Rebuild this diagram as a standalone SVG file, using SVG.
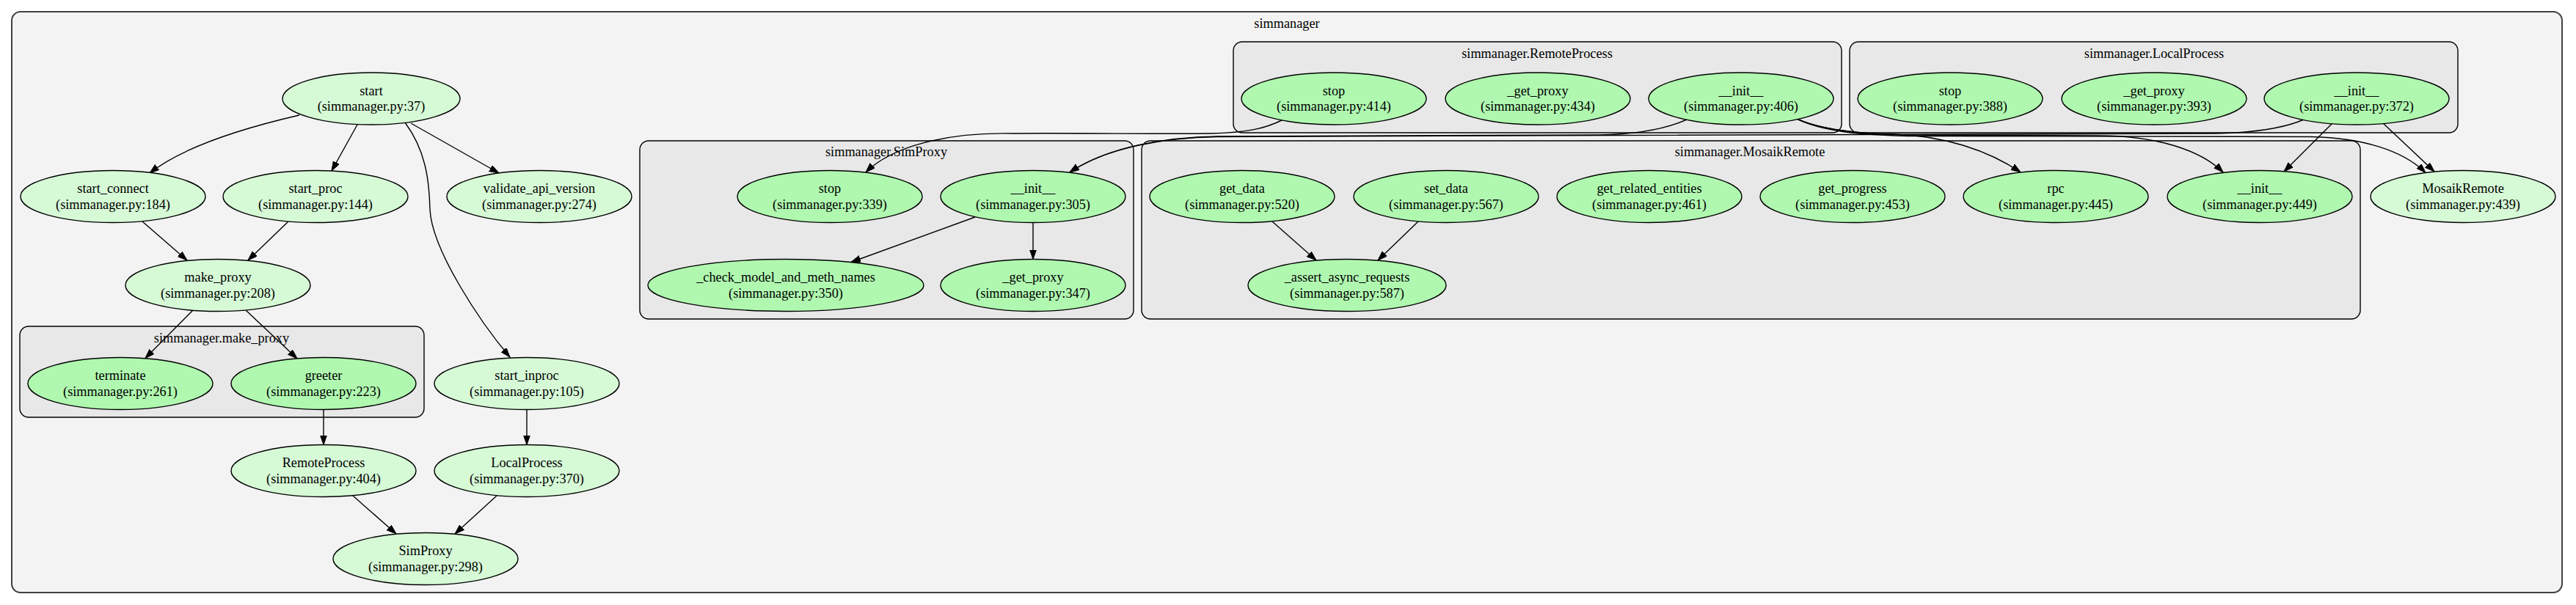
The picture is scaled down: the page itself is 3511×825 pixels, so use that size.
<svg xmlns="http://www.w3.org/2000/svg" width="3511" height="825" viewBox="0 0 3511 825">
<style>
text{font-family:"Liberation Serif","Times New Roman",serif;font-size:18.3px;fill:#000;text-anchor:middle}
.outer{fill:#f3f3f3;stroke:#404040;stroke-width:2}
.cl{fill:#e8e8e8;stroke:#000;stroke-width:1.4}
.n1 ellipse{fill:#d6f9d6;stroke:#000;stroke-width:1.4}
.n2 ellipse{fill:#b0f8b0;stroke:#000;stroke-width:1.4}
.e path{fill:none;stroke:#000;stroke-width:1.4;marker-end:url(#ah)}
</style>
<defs>
<marker id="ah" markerUnits="userSpaceOnUse" markerWidth="14" markerHeight="10" refX="13" refY="4.5" orient="auto">
<path d="M0,0 L13,4.5 L0,9 z" fill="#000" stroke="#000" stroke-width="1"/>
</marker>
</defs>
<rect width="3511" height="825" fill="#fff"/>
<g id="cluster_simmanager">
<rect class="outer" x="16" y="16" width="3476" height="792" rx="12"/>
<text x="1754" y="38">simmanager</text>
</g>
<g id="cluster_make_proxy">
<rect class="cl" x="27" y="445" width="551" height="124" rx="12"/>
<text x="302" y="467">simmanager.make_proxy</text>
</g>
<g id="cluster_SimProxy">
<rect class="cl" x="872" y="192" width="673" height="243" rx="12"/>
<text x="1208" y="213">simmanager.SimProxy</text>
</g>
<g id="cluster_MosaikRemote">
<rect class="cl" x="1556" y="192" width="1661" height="243" rx="12"/>
<text x="2385" y="213">simmanager.MosaikRemote</text>
</g>
<g id="cluster_RemoteProcess">
<rect class="cl" x="1681" y="57" width="829" height="124" rx="12"/>
<text x="2095" y="79">simmanager.RemoteProcess</text>
</g>
<g id="cluster_LocalProcess">
<rect class="cl" x="2521" y="57" width="829" height="124" rx="12"/>
<text x="2936" y="79">simmanager.LocalProcess</text>
</g>

<g id="connectors" class="e">
<path d="M408,157 C330,175 250,200 204,236"/>
<path d="M487,170 L452,233"/>
<path d="M560,168 L680,236"/>
<path d="M552,167 C580,205 585,245 586,285 C588,340 655,440 695,487"/>
<path d="M194,302 L255,355"/>
<path d="M393,302 L338,355"/>
<path d="M263,423 L198,488.5"/>
<path d="M335,423 L405,489"/>
<path d="M441,558.5 L441,606.5"/>
<path d="M718,558.5 L718,606.5"/>
<path d="M481,676 L540,728"/>
<path d="M677,676 L620,728"/>
<path d="M1329,296 L1160,357.5"/>
<path d="M1408,303.5 L1408,353.5"/>
<path d="M1734,302 L1794,355"/>
<path d="M1933,302 L1878,355"/>
<path d="M3179,168 L3113,234"/>
<path d="M3248,168 L3318,234"/>
<path d="M1748,163.5 C1725,175 1700,181 1650,182 C1550,183 1440,181 1380,182 C1290,180 1215,200 1180,235"/>
<path d="M2299,163 C2270,176 2230,183 2180,184 L1660,186 C1590,187 1510,200 1458,235"/>
<path d="M3140,163 C3110,176 3070,181 3020,182 L2200,184.5 L1660,186.5 C1590,187.5 1510,200 1458,235"/>
<path d="M2449,162 C2480,176 2530,182 2580,183 C2650,185 2710,205 2754,235"/>
<path d="M2449,162 C2480,177 2530,183 2600,184 L2860,185 C2940,185 3000,205 3030,235"/>
<path d="M2449,162 C2480,178 2530,184 2600,185.5 L3150,186.5 C3220,188 3275,205 3306,235.5"/>
</g>

<g id="start" class="n1"><ellipse cx="506" cy="134.5" rx="121" ry="35.5"/><text x="506" y="129.5">start</text><text x="506" y="151">(simmanager.py:37)</text></g>
<g id="start_connect" class="n1"><ellipse cx="154" cy="268" rx="126" ry="35.5"/><text x="154" y="263">start_connect</text><text x="154" y="284.5">(simmanager.py:184)</text></g>
<g id="start_proc" class="n1"><ellipse cx="430" cy="268" rx="126" ry="35.5"/><text x="430" y="263">start_proc</text><text x="430" y="284.5">(simmanager.py:144)</text></g>
<g id="validate_api_version" class="n1"><ellipse cx="735" cy="268" rx="126" ry="35.5"/><text x="735" y="263">validate_api_version</text><text x="735" y="284.5">(simmanager.py:274)</text></g>
<g id="make_proxy" class="n1"><ellipse cx="297" cy="389" rx="126" ry="35.5"/><text x="297" y="384">make_proxy</text><text x="297" y="405.5">(simmanager.py:208)</text></g>
<g id="make_proxy_terminate" class="n2"><ellipse cx="164" cy="523" rx="126" ry="35.5"/><text x="164" y="518">terminate</text><text x="164" y="539.5">(simmanager.py:261)</text></g>
<g id="make_proxy_greeter" class="n2"><ellipse cx="441" cy="523" rx="126" ry="35.5"/><text x="441" y="518">greeter</text><text x="441" y="539.5">(simmanager.py:223)</text></g>
<g id="start_inproc" class="n1"><ellipse cx="718" cy="523" rx="126" ry="35.5"/><text x="718" y="518">start_inproc</text><text x="718" y="539.5">(simmanager.py:105)</text></g>
<g id="RemoteProcess" class="n1"><ellipse cx="441" cy="642" rx="126" ry="35.5"/><text x="441" y="637">RemoteProcess</text><text x="441" y="658.5">(simmanager.py:404)</text></g>
<g id="LocalProcess" class="n1"><ellipse cx="718" cy="642" rx="126" ry="35.5"/><text x="718" y="637">LocalProcess</text><text x="718" y="658.5">(simmanager.py:370)</text></g>
<g id="SimProxy" class="n1"><ellipse cx="580" cy="762" rx="126" ry="35.5"/><text x="580" y="757">SimProxy</text><text x="580" y="778.5">(simmanager.py:298)</text></g>

<g id="SimProxy_stop" class="n2"><ellipse cx="1131" cy="268" rx="126" ry="35.5"/><text x="1131" y="263">stop</text><text x="1131" y="284.5">(simmanager.py:339)</text></g>
<g id="SimProxy_init" class="n2"><ellipse cx="1408" cy="268" rx="126" ry="35.5"/><text x="1408" y="263">__init__</text><text x="1408" y="284.5">(simmanager.py:305)</text></g>
<g id="SimProxy_check_model_and_meth_names" class="n2"><ellipse cx="1071" cy="389" rx="188" ry="35.5"/><text x="1071" y="384">_check_model_and_meth_names</text><text x="1071" y="405.5">(simmanager.py:350)</text></g>
<g id="SimProxy_get_proxy" class="n2"><ellipse cx="1408" cy="389" rx="126" ry="35.5"/><text x="1408" y="384">_get_proxy</text><text x="1408" y="405.5">(simmanager.py:347)</text></g>

<g id="MosaikRemote_get_data" class="n2"><ellipse cx="1693" cy="268" rx="126" ry="35.5"/><text x="1693" y="263">get_data</text><text x="1693" y="284.5">(simmanager.py:520)</text></g>
<g id="MosaikRemote_set_data" class="n2"><ellipse cx="1971" cy="268" rx="126" ry="35.5"/><text x="1971" y="263">set_data</text><text x="1971" y="284.5">(simmanager.py:567)</text></g>
<g id="MosaikRemote_get_related_entities" class="n2"><ellipse cx="2248" cy="268" rx="126" ry="35.5"/><text x="2248" y="263">get_related_entities</text><text x="2248" y="284.5">(simmanager.py:461)</text></g>
<g id="MosaikRemote_get_progress" class="n2"><ellipse cx="2525" cy="268" rx="126" ry="35.5"/><text x="2525" y="263">get_progress</text><text x="2525" y="284.5">(simmanager.py:453)</text></g>
<g id="MosaikRemote_rpc" class="n2"><ellipse cx="2802" cy="268" rx="126" ry="35.5"/><text x="2802" y="263">rpc</text><text x="2802" y="284.5">(simmanager.py:445)</text></g>
<g id="MosaikRemote_init" class="n2"><ellipse cx="3080" cy="268" rx="126" ry="35.5"/><text x="3080" y="263">__init__</text><text x="3080" y="284.5">(simmanager.py:449)</text></g>
<g id="MosaikRemote_assert_async_requests" class="n2"><ellipse cx="1836" cy="389" rx="135" ry="35.5"/><text x="1836" y="384">_assert_async_requests</text><text x="1836" y="405.5">(simmanager.py:587)</text></g>
<g id="MosaikRemote" class="n1"><ellipse cx="3357" cy="268" rx="126" ry="35.5"/><text x="3357" y="263">MosaikRemote</text><text x="3357" y="284.5">(simmanager.py:439)</text></g>

<g id="RemoteProcess_stop" class="n2"><ellipse cx="1818" cy="134.5" rx="126" ry="35.5"/><text x="1818" y="129.5">stop</text><text x="1818" y="151">(simmanager.py:414)</text></g>
<g id="RemoteProcess_get_proxy" class="n2"><ellipse cx="2096" cy="134.5" rx="126" ry="35.5"/><text x="2096" y="129.5">_get_proxy</text><text x="2096" y="151">(simmanager.py:434)</text></g>
<g id="RemoteProcess_init" class="n2"><ellipse cx="2373" cy="134.5" rx="126" ry="35.5"/><text x="2373" y="129.5">__init__</text><text x="2373" y="151">(simmanager.py:406)</text></g>

<g id="LocalProcess_stop" class="n2"><ellipse cx="2658" cy="134.5" rx="126" ry="35.5"/><text x="2658" y="129.5">stop</text><text x="2658" y="151">(simmanager.py:388)</text></g>
<g id="LocalProcess_get_proxy" class="n2"><ellipse cx="2936" cy="134.5" rx="126" ry="35.5"/><text x="2936" y="129.5">_get_proxy</text><text x="2936" y="151">(simmanager.py:393)</text></g>
<g id="LocalProcess_init" class="n2"><ellipse cx="3212" cy="134.5" rx="126" ry="35.5"/><text x="3212" y="129.5">__init__</text><text x="3212" y="151">(simmanager.py:372)</text></g>
</svg>
